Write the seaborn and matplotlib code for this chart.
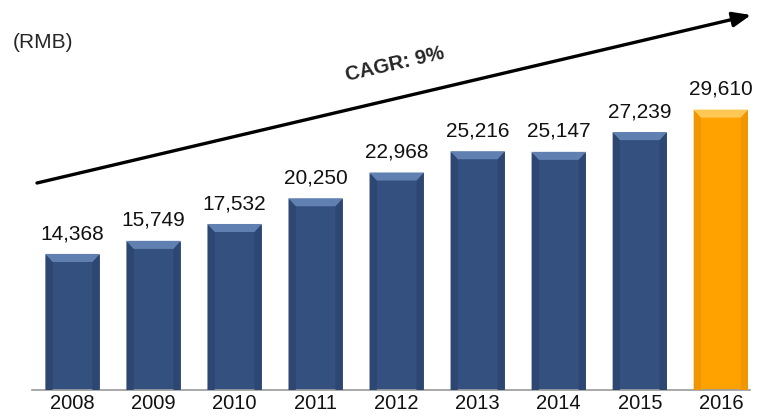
import matplotlib
matplotlib.use('Agg')
import matplotlib.pyplot as plt
from matplotlib.patches import Polygon
import pandas as pd
import seaborn as sns

years = ['2008', '2009', '2010', '2011', '2012', '2013', '2014', '2015', '2016']
income = [14368, 15749, 17532, 20250, 22968, 25216, 25147, 27239, 29610]
bar_colors = ['#34507f'] * 8 + ['#ffa200']
top_colors = ['#5f80b0'] * 8 + ['#ffc855']
side_colors = ['#2d4672'] * 8 + ['#f09600']

df = pd.DataFrame({'year': years, 'income': income})

sns.set_style('white')
plt.rcParams['font.family'] = ['Liberation Sans', 'DejaVu Sans']

fig = plt.figure(figsize=(7.57, 4.19), dpi=100)
ax = fig.add_axes([32 / 757, 29 / 419, 718 / 757, 390 / 419])

sns.barplot(data=df, x='year', y='income', hue='year', palette=bar_colors,
            legend=False, width=0.67, saturation=1, ax=ax)

ax.set_ylim(0, 41180)
ax.set_xlim(-0.5, 8.36)

# bevel effect on every bar
bx = 0.09
by = 850
for i, p in enumerate(ax.patches):
    x0, w, h = p.get_x(), p.get_width(), p.get_height()
    x1 = x0 + w
    ax.add_patch(Polygon([[x0, h], [x0 + bx, h - by], [x0 + bx, 0], [x0, 0]],
                         closed=True, color=side_colors[i], lw=0, zorder=3))
    ax.add_patch(Polygon([[x1, h], [x1 - bx, h - by], [x1 - bx, 0], [x1, 0]],
                         closed=True, color=side_colors[i], lw=0, zorder=3))
    ax.add_patch(Polygon([[x0, h], [x1, h], [x1 - bx, h - by], [x0 + bx, h - by]],
                         closed=True, color=top_colors[i], lw=0, zorder=3))
    ax.text(p.get_x() + w / 2, h + 1150, f'{income[i]:,}', ha='center', va='bottom',
            fontsize=15, color='#111111')

for s in ['top', 'right', 'left']:
    ax.spines[s].set_visible(False)
ax.spines['bottom'].set_color('#999999')
ax.spines['bottom'].set_linewidth(1.2)
ax.set_yticks([])
ax.set_xlabel('')
ax.set_ylabel('')
ax.tick_params(axis='x', length=0, labelsize=14.5, pad=3, colors='#111111')

fig.text(13 / 757, 1 - 42 / 419, '(RMB)', fontsize=15, va='center', ha='left')

ax.annotate('', xy=(751 / 757, 1 - 15 / 419), xycoords='figure fraction',
            xytext=(37 / 757, 1 - 183 / 419), textcoords='figure fraction',
            arrowprops=dict(arrowstyle='-|>,head_length=1.1,head_width=0.45',
                            color='black', lw=2.4, shrinkA=0, shrinkB=0))
fig.text(395 / 757, 1 - 64 / 419, 'CAGR: 9%', fontsize=14.5, fontweight='bold',
         rotation=13, ha='center', va='center')

fig.savefig('out.png', dpi=100)
